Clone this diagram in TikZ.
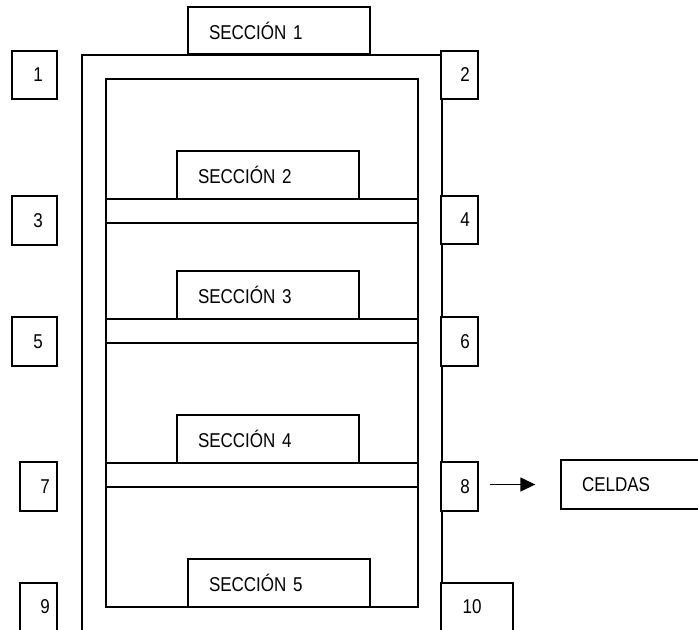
\documentclass[tikz,border=0pt]{standalone}
\usepackage{fontspec}
\setmainfont{Liberation Sans}[FakeStretch=0.85]
\usetikzlibrary{arrows.meta}
\begin{document}
\begin{tikzpicture}[x=1pt,y=-1pt,
  frame/.style={line width=1.7pt},
  bx/.style={draw, line width=1.4pt, fill=white, inner sep=0pt, font=\fontsize{20}{22}\selectfont},
  secbox/.style={bx, minimum width=182pt, minimum height=48pt, inner xsep=21pt, text width=140pt, align=left},
  numbox/.style={bx, minimum width=37pt, minimum height=48pt},
  shelf/.style={draw, line width=1.4pt, minimum width=312pt, minimum height=24pt, inner sep=0pt}]
\useasboundingbox (0,0) rectangle (698,629);
\clip (0,0) rectangle (698,629);
\fill[white] (0,0) rectangle (698,629);
% outer frame
\coordinate (obl) at (82,640);
\coordinate (otl) at (82,55);
\coordinate (otr) at (442,55);
\coordinate (obr) at (442,640);
\draw[frame] (obl) -- (otl) -- (otr) -- (obr);
% inner frame
\node[draw, line width=1.4pt, minimum width=312pt, minimum height=528pt, inner sep=0pt] (inner) at (262,343) {};
% shelves
\node[shelf] (sh2) at (262,211) {};
\node[shelf] (sh3) at (262,331) {};
\node[shelf] (sh4) at (262,475) {};
% section boxes
\node[secbox, minimum height=47pt] (s1) at (279,30.5) {SECCIÓN 1};
\node[secbox] (s2) at (268,175) {SECCIÓN 2};
\node[secbox] (s3) at (268,295) {SECCIÓN 3};
\node[secbox] (s4) at (268,439) {SECCIÓN 4};
\node[secbox] (s5) at (279,583) {SECCIÓN 5};
% number boxes left
\node[numbox, minimum width=45pt] (b1) at (34.5,75) {\hspace*{7pt}1};
\node[numbox, minimum width=45pt, minimum height=49pt] (b3) at (34.5,220.5) {\hspace*{7pt}3};
\node[numbox, minimum width=45pt, minimum height=49pt] (b5) at (34.5,341.5) {\hspace*{7pt}5};
\node[numbox, minimum height=49pt] (b7) at (38.5,486.5) {\hspace*{13pt}7};
\node[numbox] (b9) at (38.5,607) {\hspace*{13pt}9};
% number boxes right
\node[numbox] (b2) at (459.5,75) {\hspace*{11pt}2};
\node[numbox] (b4) at (459.5,220) {\hspace*{11pt}4};
\node[numbox, minimum height=49pt] (b6) at (459.5,341.5) {\hspace*{11pt}6};
\node[numbox, minimum height=49pt] (b8) at (459.5,486.5) {\hspace*{11pt}8};
\node[numbox, minimum width=72pt] (b10) at (477,607) {10\hspace*{10pt}};
% celdas
\node[secbox, minimum height=49pt] (celdas) at (652,484.5) {CELDAS};
% arrow
\draw[line width=1.4pt, -{Triangle[length=15pt,width=14pt]}, shorten <=11pt, shorten >=25pt]
  (celdas.west -| b8.east) -- (celdas.west);
\end{tikzpicture}
\end{document}
